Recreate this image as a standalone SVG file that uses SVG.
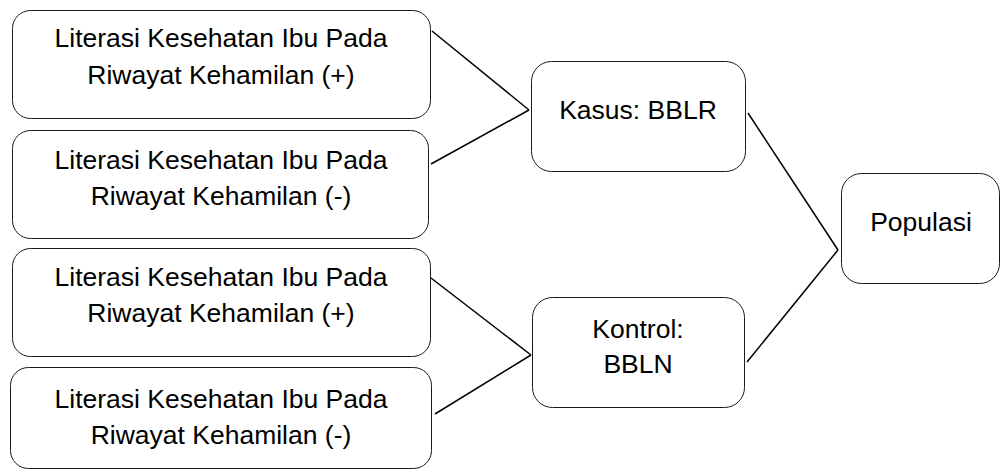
<svg xmlns="http://www.w3.org/2000/svg" width="1001" height="470" viewBox="0 0 1001 470">
  <style>
    .box { fill: #ffffff; stroke: #1a1a1a; stroke-width: 1; }
    .lbl { font-family: "Liberation Sans", Arial, sans-serif; font-size: 26.5px; fill: #000000; text-anchor: middle; }
    .link { stroke: #000000; stroke-width: 1.5; fill: none; }
  </style>
  <rect width="1001" height="470" fill="#ffffff"/>

  <g id="connectors">
    <line class="link" x1="432" y1="31" x2="529" y2="110"/>
    <line class="link" x1="431" y1="164" x2="529" y2="110"/>
    <line class="link" x1="431" y1="278" x2="531" y2="355"/>
    <line class="link" x1="435" y1="414" x2="531" y2="355"/>
    <line class="link" x1="748" y1="113" x2="838" y2="250"/>
    <line class="link" x1="747" y1="362" x2="838" y2="250"/>
  </g>

  <g id="lit-pos-kasus">
    <rect class="box" x="12.5" y="10.5" width="418" height="108" rx="18"/>
    <text class="lbl" x="221" y="47">Literasi Kesehatan Ibu Pada</text>
    <text class="lbl" x="221" y="84">Riwayat Kehamilan (+)</text>
  </g>

  <g id="lit-neg-kasus">
    <rect class="box" x="12.5" y="130.5" width="416" height="108" rx="18"/>
    <text class="lbl" x="221" y="169">Literasi Kesehatan Ibu Pada</text>
    <text class="lbl" x="221" y="205">Riwayat Kehamilan (-)</text>
  </g>

  <g id="lit-pos-kontrol">
    <rect class="box" x="12.5" y="248.5" width="418" height="108" rx="18"/>
    <text class="lbl" x="221" y="286">Literasi Kesehatan Ibu Pada</text>
    <text class="lbl" x="221" y="322">Riwayat Kehamilan (+)</text>
  </g>

  <g id="lit-neg-kontrol">
    <rect class="box" x="10.5" y="367.5" width="421" height="101" rx="18"/>
    <text class="lbl" x="221" y="408">Literasi Kesehatan Ibu Pada</text>
    <text class="lbl" x="221" y="444">Riwayat Kehamilan (-)</text>
  </g>

  <g id="kasus">
    <rect class="box" x="531.5" y="61.5" width="214" height="110" rx="20"/>
    <text class="lbl" x="638" y="119">Kasus: BBLR</text>
  </g>

  <g id="kontrol">
    <rect class="box" x="532.5" y="297.5" width="212" height="110" rx="20"/>
    <text class="lbl" x="638" y="338">Kontrol:</text>
    <text class="lbl" x="638" y="373">BBLN</text>
  </g>

  <g id="populasi">
    <rect class="box" x="841.5" y="173.5" width="158" height="110" rx="20"/>
    <text class="lbl" x="921" y="231">Populasi</text>
  </g>
</svg>
